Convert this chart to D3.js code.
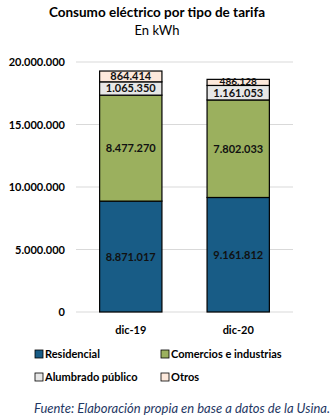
<!DOCTYPE html>
<html><head><meta charset="utf-8">
<script src="https://cdn.jsdelivr.net/npm/d3@7"></script>
<style>body{margin:0;background:#fff}svg{display:block}</style>
</head><body>
<script>
const categories = ["dic-19", "dic-20"];
const seriesNames = ["Residencial", "Comercios e industrias", "Alumbrado público", "Otros"];
const residencial = [8871017, 9161812];
const comercios = [8477270, 7802033];
const alumbrado = [1065350, 1161053];
const otros = [864414, 486128];
const yTicks = [0, 5000000, 10000000, 15000000, 20000000];
const colors = ["#185c86", "#9bb05e", "#e7e7e7", "#fde9dc"];

const W = 333, H = 420;
const font = "Lato, 'Open Sans', sans-serif";
const svg = d3.select("body").append("svg").attr("width", W).attr("height", H);

const x = d3.scaleBand().domain(categories).range([76, 293]).paddingInner(0.42).paddingOuter(0.22);
const y = d3.scaleLinear().domain([0, 20000000]).range([312, 62]);
const fmt = v => d3.format(",")(v).replace(/,/g, ".");

// title
svg.append("text").attr("x", 157).attr("y", 17).attr("text-anchor", "middle")
  .attr("font-family", font).attr("font-weight", "bold").attr("font-size", 13.5).text("Consumo eléctrico por tipo de tarifa");
svg.append("text").attr("x", 157).attr("y", 35).attr("text-anchor", "middle")
  .attr("font-family", font).attr("font-size", 13).text("En kWh");

// grid
svg.append("g").selectAll("line").data(yTicks).join("line")
  .attr("x1", 76).attr("x2", 293).attr("y1", d => y(d)).attr("y2", d => y(d))
  .attr("stroke", "#d9d9d9").attr("stroke-width", 1);

// y axis
const yAxis = d3.axisLeft(y).tickValues(yTicks).tickFormat(fmt).tickSize(0).tickPadding(0);
const ga = svg.append("g").attr("transform", "translate(65,0)").call(yAxis);
ga.select(".domain").remove();
ga.selectAll("text").attr("font-family", font).attr("font-weight", "bold").attr("font-size", 11).attr("fill", "#000");

// stack
const rows = categories.map((c, i) => ({cat: c, s0: residencial[i], s1: comercios[i], s2: alumbrado[i], s3: otros[i]}));
const stack = d3.stack().keys(["s0", "s1", "s2", "s3"])(rows);

const layers = svg.append("g").selectAll("g").data(stack).join("g").attr("fill", (d, i) => colors[i]);
layers.selectAll("rect").data(d => d).join("rect")
  .attr("x", d => x(d.data.cat)).attr("width", x.bandwidth())
  .attr("y", d => y(d[1])).attr("height", d => y(d[0]) - y(d[1]))
  .attr("stroke", "#000").attr("stroke-width", 1.2);

// labels
layers.each(function(layer, li) {
  d3.select(this).selectAll("text").data(layer).join("text")
    .attr("x", d => x(d.data.cat) + x.bandwidth() / 2)
    .attr("y", d => {
      const h = y(d[0]) - y(d[1]);
      return (y(d[0]) + y(d[1])) / 2 + (h < 9 ? 3 : 4);
    })
    .attr("text-anchor", "middle").attr("font-family", font).attr("font-weight", "bold")
    .attr("font-size", d => (y(d[0]) - y(d[1])) < 9 ? 10 : 11).attr("fill", "#111")
    .text(d => fmt(d[1] - d[0]));
});

// x axis labels
svg.append("g").selectAll("text").data(categories).join("text")
  .attr("x", d => x(d) + x.bandwidth() / 2).attr("y", 334).attr("text-anchor", "middle")
  .attr("font-family", font).attr("font-weight", "bold").attr("font-size", 11).text(d => d);

// legend
const legPos = [[35, 358], [161, 358], [35, 381], [161, 381]];
const lg = svg.append("g").selectAll("g").data(seriesNames).join("g")
  .attr("transform", (d, i) => `translate(${legPos[i][0]},${legPos[i][1]})`);
lg.append("rect").attr("x", 0).attr("y", -8).attr("width", 8).attr("height", 8)
  .attr("fill", (d, i) => colors[i]).attr("stroke", "#000").attr("stroke-width", 0.8);
lg.append("text").attr("x", 10).attr("y", 0).attr("font-family", font).attr("font-weight", "bold")
  .attr("font-size", 11).text(d => d);

// source
svg.append("text").attr("x", 330).attr("y", 413).attr("text-anchor", "end")
  .attr("font-family", font).attr("font-style", "italic").attr("font-size", 13).attr("fill", "#1f3864")
  .text("Fuente: Elaboración propia en base a datos de la Usina.");
</script>
</body></html>
